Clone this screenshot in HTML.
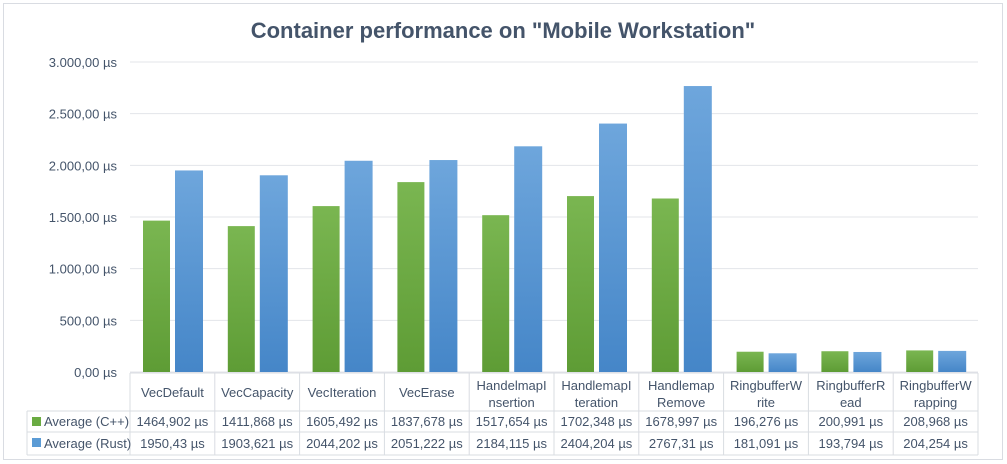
<!DOCTYPE html>
<html><head><meta charset="utf-8"><style>
body{margin:0;background:#fff;}
svg{display:block;font-family:"Liberation Sans",sans-serif;}
</style></head><body>
<svg id="c" width="1007" height="464" viewBox="0 0 1007 464">
<defs>
<linearGradient id="gG" x1="0" y1="0" x2="0" y2="1"><stop offset="0" stop-color="#7ab651"/><stop offset="1" stop-color="#5e9c35"/></linearGradient>
<linearGradient id="gB" x1="0" y1="0" x2="0" y2="1"><stop offset="0" stop-color="#6ea6dc"/><stop offset="1" stop-color="#4586c8"/></linearGradient>
</defs>
<rect x="3.5" y="3.5" width="999" height="456" fill="#fff" stroke="#d9dce2"/>
<text x="503" y="38" text-anchor="middle" font-size="22" font-weight="bold" fill="#44546a">Container performance on "Mobile Workstation"</text>
<g id="grid"></g><g id="bars"></g><g id="table"></g>
</svg>
<script>
const categories=[["VecDefault"],["VecCapacity"],["VecIteration"],["VecErase"],["HandelmapI","nsertion"],["HandlemapI","teration"],["Handlemap","Remove"],["RingbufferW","rite"],["RingbufferR","ead"],["RingbufferW","rapping"]];
const cppValues=[1464.902,1411.868,1605.492,1837.678,1517.654,1702.348,1678.997,196.276,200.991,208.968];
const rustValues=[1950.43,1903.621,2044.202,2051.222,2184.115,2404.204,2767.31,181.091,193.794,204.254];
const cppLabels=["1464,902 µs","1411,868 µs","1605,492 µs","1837,678 µs","1517,654 µs","1702,348 µs","1678,997 µs","196,276 µs","200,991 µs","208,968 µs"];
const rustLabels=["1950,43 µs","1903,621 µs","2044,202 µs","2051,222 µs","2184,115 µs","2404,204 µs","2767,31 µs","181,091 µs","193,794 µs","204,254 µs"];
const yTicks=[0,500,1000,1500,2000,2500,3000];
const yTickLabels=["0,00 µs","500,00 µs","1.000,00 µs","1.500,00 µs","2.000,00 µs","2.500,00 µs","3.000,00 µs"];
const seriesNames=["Average (C++)","Average (Rust)"];

const NS="http://www.w3.org/2000/svg";
const X0=130,X1=978,Y0=372,Y1=62;
const cw=(X1-X0)/categories.length;
const y=v=>Y0-(v/3000)*(Y0-Y1);
const xc=i=>X0+cw*i;
function mk(tag,attrs,parent,text){const e=document.createElementNS(NS,tag);for(const k in attrs)e.setAttribute(k,attrs[k]);if(text!==undefined)e.textContent=text;parent.appendChild(e);return e;}
const grid=document.getElementById('grid'),bars=document.getElementById('bars'),tbl=document.getElementById('table');
yTicks.forEach((t,i)=>{
  const l=mk('line',{x1:X0,x2:X1,y1:y(t),y2:y(t),stroke:'#e3e5ea','stroke-width':1},grid);
  
  
  const tx=mk('text',{x:117,y:y(t)+5,'text-anchor':'end','font-size':13,fill:'#44546a'},grid,yTickLabels[i]);
  
  
});
categories.forEach((c,i)=>{
  const b1=mk('rect',{x:xc(i)+13,y:y(cppValues[i]),width:27,height:Y0-y(cppValues[i]),fill:'url(#gG)'},bars);
  
  
  const b2=mk('rect',{x:xc(i)+45,y:y(rustValues[i]),width:28,height:Y0-y(rustValues[i]),fill:'url(#gB)'},bars);
  
  
});
// table
const R0=373,R1=411,R2=432,R3=455,TL=27;
const ls={stroke:'#d9dce2','stroke-width':1};
[[X0,R0,X1,R0],[TL,R1,X1,R1],[TL,R2,X1,R2],[TL,R3,X1,R3],[TL,R1,TL,R3]].forEach(a=>{const l=mk('line',Object.assign({x1:a[0],y1:a[1],x2:a[2],y2:a[3]},ls),tbl);});
for(let i=0;i<=categories.length;i++){const l=mk('line',Object.assign({x1:xc(i),y1:R0,x2:xc(i),y2:R3},ls),tbl);}
categories.forEach((c,i)=>{
  const cx=xc(i)+cw/2;
  c.forEach((s,j)=>{
    const ty=c.length===1?R0+24:R0+17+j*17;
    const t=mk('text',{x:cx,y:ty,'text-anchor':'middle','font-size':13,fill:'#44546a'},tbl,s);
    
    
  });
  const a=mk('text',{x:cx,y:R1+15,'text-anchor':'middle','font-size':13,fill:'#44546a'},tbl,cppLabels[i]);
  
  
  const b=mk('text',{x:cx,y:R2+16,'text-anchor':'middle','font-size':13,fill:'#44546a'},tbl,rustLabels[i]);
  
  
});
[['#6aab42',R1],['#5b9bd5',R2]].forEach((s,k)=>{
  const r=mk('rect',{x:32,y:s[1]+6,width:9,height:9,fill:s[0]},tbl);
  
  
  const t=mk('text',{x:44,y:s[1]+15+(k?1:0),'font-size':13,fill:'#44546a'},tbl,seriesNames[k]);
  
  
});
</script>
</body></html>
